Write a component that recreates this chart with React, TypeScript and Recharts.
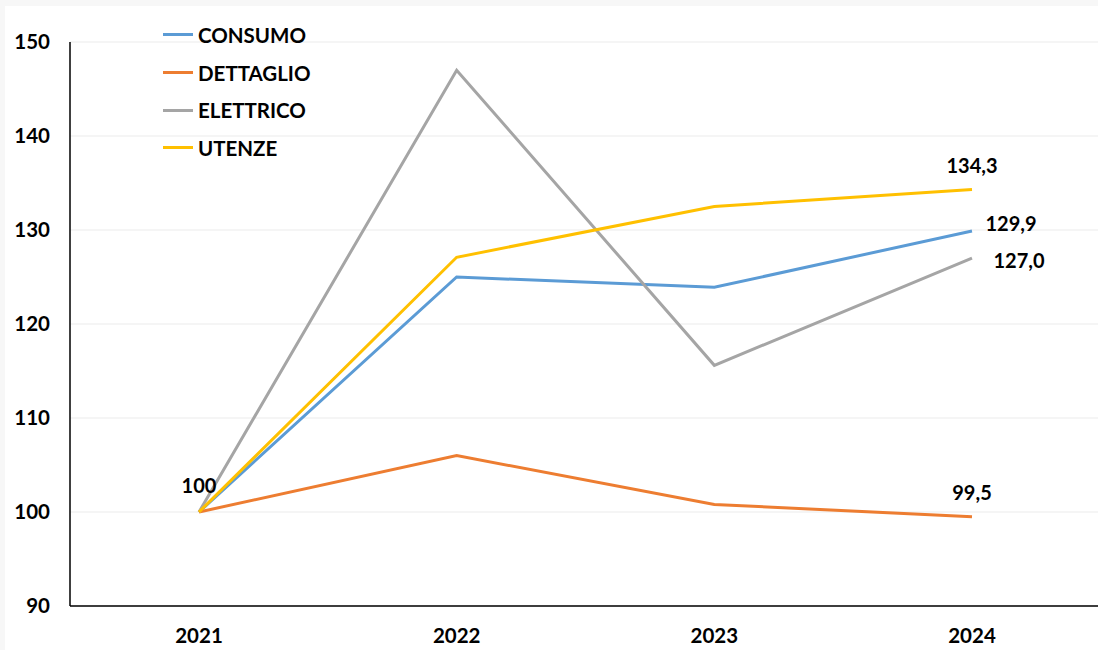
import React from 'react';
import { LineChart, Line, XAxis, YAxis, CartesianGrid, Legend, LabelList } from 'recharts';

const years = ['2021', '2022', '2023', '2024'];
const consumo = [100, 125.0, 123.9, 129.9];
const dettaglio = [100, 106.0, 100.8, 99.5];
const elettrico = [100, 147.0, 115.6, 127.0];
const utenze = [100, 127.1, 132.5, 134.3];
const yTicks = [90, 100, 110, 120, 130, 140, 150];

const seriesNames = ['CONSUMO', 'DETTAGLIO', 'ELETTRICO', 'UTENZE'];
const seriesColors = ['#5B9BD5', '#ED7D31', '#A5A5A5', '#FFC000'];

const data = years.map((y, i) => ({
  year: y,
  CONSUMO: consumo[i],
  DETTAGLIO: dettaglio[i],
  ELETTRICO: elettrico[i],
  UTENZE: utenze[i],
}));

const FONT = 'Lato, "Noto Sans", sans-serif';

const fmt = (v: number) => v.toFixed(1).replace('.', ',');

const labelOffsets: Record<string, { dx: number; dy: number; first?: boolean }> = {
  CONSUMO: { dx: 39, dy: -8 },
  DETTAGLIO: { dx: 0, dy: -25 },
  ELETTRICO: { dx: 47, dy: 2, first: true },
  UTENZE: { dx: 0, dy: -25 },
};

const makeLabel = (name: string) => (props: any) => {
  const { x, y, index, value } = props;
  const off = labelOffsets[name];
  const last = index === years.length - 1;
  const first = index === 0 && off.first;
  if (!last && !first) return null;
  const text = first ? String(value) : fmt(Number(value));
  const dx = first ? 0 : off.dx;
  const dy = first ? -27 : off.dy;
  return (
    <text
      x={x + dx}
      y={y + dy}
      textAnchor="middle"
      dominantBaseline="central"
      fontFamily={FONT}
      fontWeight={700}
      fontSize={20}
      fill="#000"
    >
      {text}
    </text>
  );
};

const LegendContent = () => (
  <div style={{ fontFamily: FONT, fontWeight: 700, fontSize: 20.5, color: '#000', textAlign: 'left' }}>
    {seriesNames.map((n, i) => (
      <div key={n} style={{ display: 'flex', alignItems: 'center', height: 37.7 }}>
        <div style={{ width: 30, height: 3, background: seriesColors[i], marginRight: 5 }} />
        <span>{n}</span>
      </div>
    ))}
  </div>
);

export default function App() {
  return (
    <div style={{ position: 'fixed', left: 0, top: 0, width: 1098, height: 650, overflow: 'hidden', background: '#f7f7f7' }}>
      <div style={{ position: 'absolute', left: 5, top: 6, right: 0, bottom: 0, background: '#fff' }} />
      <div style={{ position: 'absolute', left: 0, top: 0 }}>
        <LineChart width={1101} height={650} data={data} margin={{ top: 42, right: 0, bottom: 0, left: 0 }}>
          <CartesianGrid vertical={false} stroke="#ebebeb" strokeWidth={1} />
          <XAxis
            dataKey="year"
            axisLine={{ stroke: '#000', strokeWidth: 1.5 }}
            tickLine={false}
            tickSize={0}
            tickMargin={22}
            height={44}
            padding={{ left: 129, right: 129 }}
            tick={{ fontFamily: FONT, fontWeight: 700, fontSize: 20.5, fill: '#000' }}
          />
          <YAxis
            domain={[90, 150]}
            ticks={yTicks}
            interval={0}
            axisLine={{ stroke: '#000', strokeWidth: 1.5 }}
            tickLine={false}
            tickSize={0}
            tickMargin={20}
            width={70}
            tick={{ fontFamily: FONT, fontWeight: 700, fontSize: 20.5, fill: '#000' }}
          />
          <Legend
            layout="horizontal"
            verticalAlign="middle"
            align="center"
            content={<LegendContent />}
            wrapperStyle={{ position: 'absolute', left: 163, top: 16, width: 200, height: 151 }}
          />
          {seriesNames.map((n, i) => (
            <Line
              key={n}
              type="linear"
              dataKey={n}
              stroke={seriesColors[i]}
              strokeWidth={3}
              dot={false}
              activeDot={false}
              isAnimationActive={false}
            >
              <LabelList dataKey={n} content={makeLabel(n)} />
            </Line>
          ))}
        </LineChart>
      </div>
    </div>
  );
}
